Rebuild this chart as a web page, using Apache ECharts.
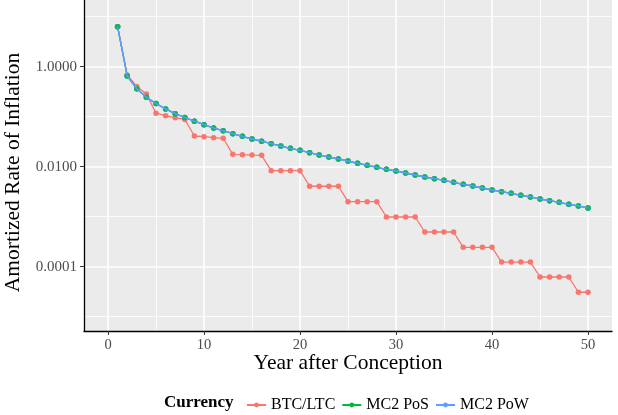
<!DOCTYPE html>
<html><head><meta charset="utf-8">
<script src="https://cdn.jsdelivr.net/npm/echarts@6/dist/echarts.min.js"></script>
<style>html,body{margin:0;padding:0;background:#fff}#c{width:618px;height:415px}</style>
</head><body><div id="c"></div>
<script>
const years = [];
for (let i = 1; i <= 50; i++) years.push(i);

const btcLtc = [6.31, 0.682, 0.402, 0.284, 0.1175, 0.1047, 0.0955, 0.0879,
  0.0411, 0.0398, 0.0380, 0.0370, 0.0177, 0.0174, 0.0171, 0.0169,
  0.00832, 0.00832, 0.00832, 0.00832, 0.00406, 0.00406, 0.00406, 0.00406,
  0.00200, 0.00200, 0.00200, 0.00200, 0.000986, 0.000986, 0.000986, 0.000986,
  0.000494, 0.000494, 0.000494, 0.000494, 0.000244, 0.000244, 0.000244, 0.000244,
  0.000124, 0.000124, 0.000124, 0.000124, 0.0000622, 0.0000622, 0.0000622, 0.0000622,
  0.0000308, 0.0000308];

const mc2PoS = [6.31, 0.652, 0.363, 0.244, 0.184, 0.143, 0.115, 0.0964, 0.0813, 0.0692,
  0.0594, 0.0525, 0.0457, 0.0406, 0.0358, 0.0324, 0.0288, 0.0259, 0.0233, 0.0213,
  0.0191, 0.0171, 0.0156, 0.0143, 0.0130, 0.0117, 0.0107, 0.00973, 0.00887, 0.00820,
  0.00748, 0.00682, 0.00622, 0.00575, 0.00535, 0.00488, 0.00445, 0.00411, 0.00375, 0.00342,
  0.00316, 0.00294, 0.00268, 0.00248, 0.00226, 0.00209, 0.00194, 0.00177, 0.00164, 0.00149];

const mc2PoW = [6.31, 0.652, 0.363, 0.244, 0.184, 0.143, 0.115, 0.0964, 0.0813, 0.0692,
  0.0594, 0.0525, 0.0457, 0.0406, 0.0358, 0.0324, 0.0288, 0.0259, 0.0233, 0.0213,
  0.0191, 0.0171, 0.0156, 0.0143, 0.0130, 0.0117, 0.0107, 0.00973, 0.00887, 0.00820,
  0.00748, 0.00682, 0.00622, 0.00575, 0.00535, 0.00488, 0.00445, 0.00411, 0.00375, 0.00342,
  0.00316, 0.00294, 0.00268, 0.00248, 0.00226, 0.00209, 0.00194, 0.00177, 0.00164, 0.00149];

const seriesNames = ['BTC/LTC', 'MC2 PoS', 'MC2 PoW'];
const xMajorTicks = [0, 10, 20, 30, 40, 50];
const xMinorTicks = [5, 15, 25, 35, 45];
const yMajorTicks = [1, 0.01, 0.0001];
const yMinorTicks = [10, 0.1, 0.001, 0.00001];

const RED = '#F8766D', GREEN = '#00BA38', BLUE = '#619CFF';
const FONT = 'Liberation Serif';
const pairs = arr => years.map((y, i) => [y, arr[i]]);
const xMin = -2.5, xMax = 52.5;
const yMin = Math.pow(10, -5.286), yMax = Math.pow(10, 1.334);

const chart = echarts.init(document.getElementById('c'), null, {renderer: 'canvas'});
chart.setOption({
  animation: false,
  backgroundColor: '#ffffff',
  title: {
    text: 'Currency', left: 159, top: 389,
    textStyle: {fontFamily: FONT, fontWeight: 'bold', fontSize: 17, color: '#000'}
  },
  legend: {
    data: seriesNames, left: 241, top: 392, itemWidth: 19, itemHeight: 6, itemGap: 6,
    textStyle: {fontFamily: FONT, fontSize: 16, color: '#000'}
  },
  grid: {left: 84, right: 6, top: 0, bottom: 84, show: true, backgroundColor: '#EBEBEB', borderWidth: 0,
    containLabel: false, outerBoundsMode: 'none'},
  xAxis: [{
    type: 'value', min: xMin, max: xMax,
    name: 'Year after Conception', nameLocation: 'middle', nameGap: 21, nameMoveOverlap: false,
    nameTextStyle: {fontFamily: FONT, fontSize: 21.5, color: '#000'},
    axisLine: {show: true, onZero: false, lineStyle: {color: '#000', width: 1.3}},
    axisTick: {show: true, length: 4, customValues: xMajorTicks, lineStyle: {color: '#333'}},
    axisLabel: {customValues: xMajorTicks, margin: 7, fontFamily: FONT, fontSize: 14.5, color: '#4D4D4D'},
    splitLine: {show: true, lineStyle: {color: '#fff', width: 1.5}}
  }, {
    type: 'value', min: xMin, max: xMax, position: 'bottom',
    axisLine: {show: false, onZero: false}, axisLabel: {show: false},
    axisTick: {show: false, customValues: xMinorTicks},
    splitLine: {show: true, lineStyle: {color: '#fff', width: 0.8}}
  }],
  yAxis: [{
    type: 'log', min: yMin, max: yMax,
    name: 'Amortized Rate of Inflation', nameLocation: 'middle', nameGap: 43,
    nameTextStyle: {fontFamily: FONT, fontSize: 21.5, color: '#000', padding: [0, 14, 0, 0]},
    axisLine: {show: true, onZero: false, lineStyle: {color: '#000', width: 1.3}},
    axisTick: {show: true, length: 4, customValues: yMajorTicks, lineStyle: {color: '#333'}},
    axisLabel: {customValues: yMajorTicks, margin: 7, fontFamily: FONT, fontSize: 15, color: '#4D4D4D',
      formatter: v => Number(v).toFixed(4)},
    splitLine: {show: true, lineStyle: {color: '#fff', width: 1.5}}
  }, {
    type: 'log', min: yMin, max: yMax, position: 'left',
    axisLine: {show: false, onZero: false}, axisLabel: {show: false},
    axisTick: {show: false, customValues: yMinorTicks},
    splitLine: {show: true, lineStyle: {color: '#fff', width: 0.8}}
  }],
  series: [
    {name: 'BTC/LTC', type: 'line', data: pairs(btcLtc), color: RED, symbol: 'circle', symbolSize: 5.5,
      lineStyle: {width: 1.3}, z: 2},
    {name: 'MC2 PoS', type: 'line', data: pairs(mc2PoS), color: GREEN, symbol: 'circle', symbolSize: 5.5,
      lineStyle: {width: 1.3}, z: 2},
    {name: 'MC2 PoW', type: 'line', data: pairs(mc2PoW), color: BLUE, symbol: 'circle', symbolSize: 5.5,
      lineStyle: {width: 1.3}, z: 2},
    {name: 'PoS points', type: 'scatter', data: pairs(mc2PoS), color: GREEN, symbol: 'circle', symbolSize: 5.5, z: 3},
    {name: 'PoW line', type: 'line', data: pairs(mc2PoW), color: BLUE, symbol: 'none',
      lineStyle: {width: 1.3}, z: 4}
  ]
});
</script></body></html>
